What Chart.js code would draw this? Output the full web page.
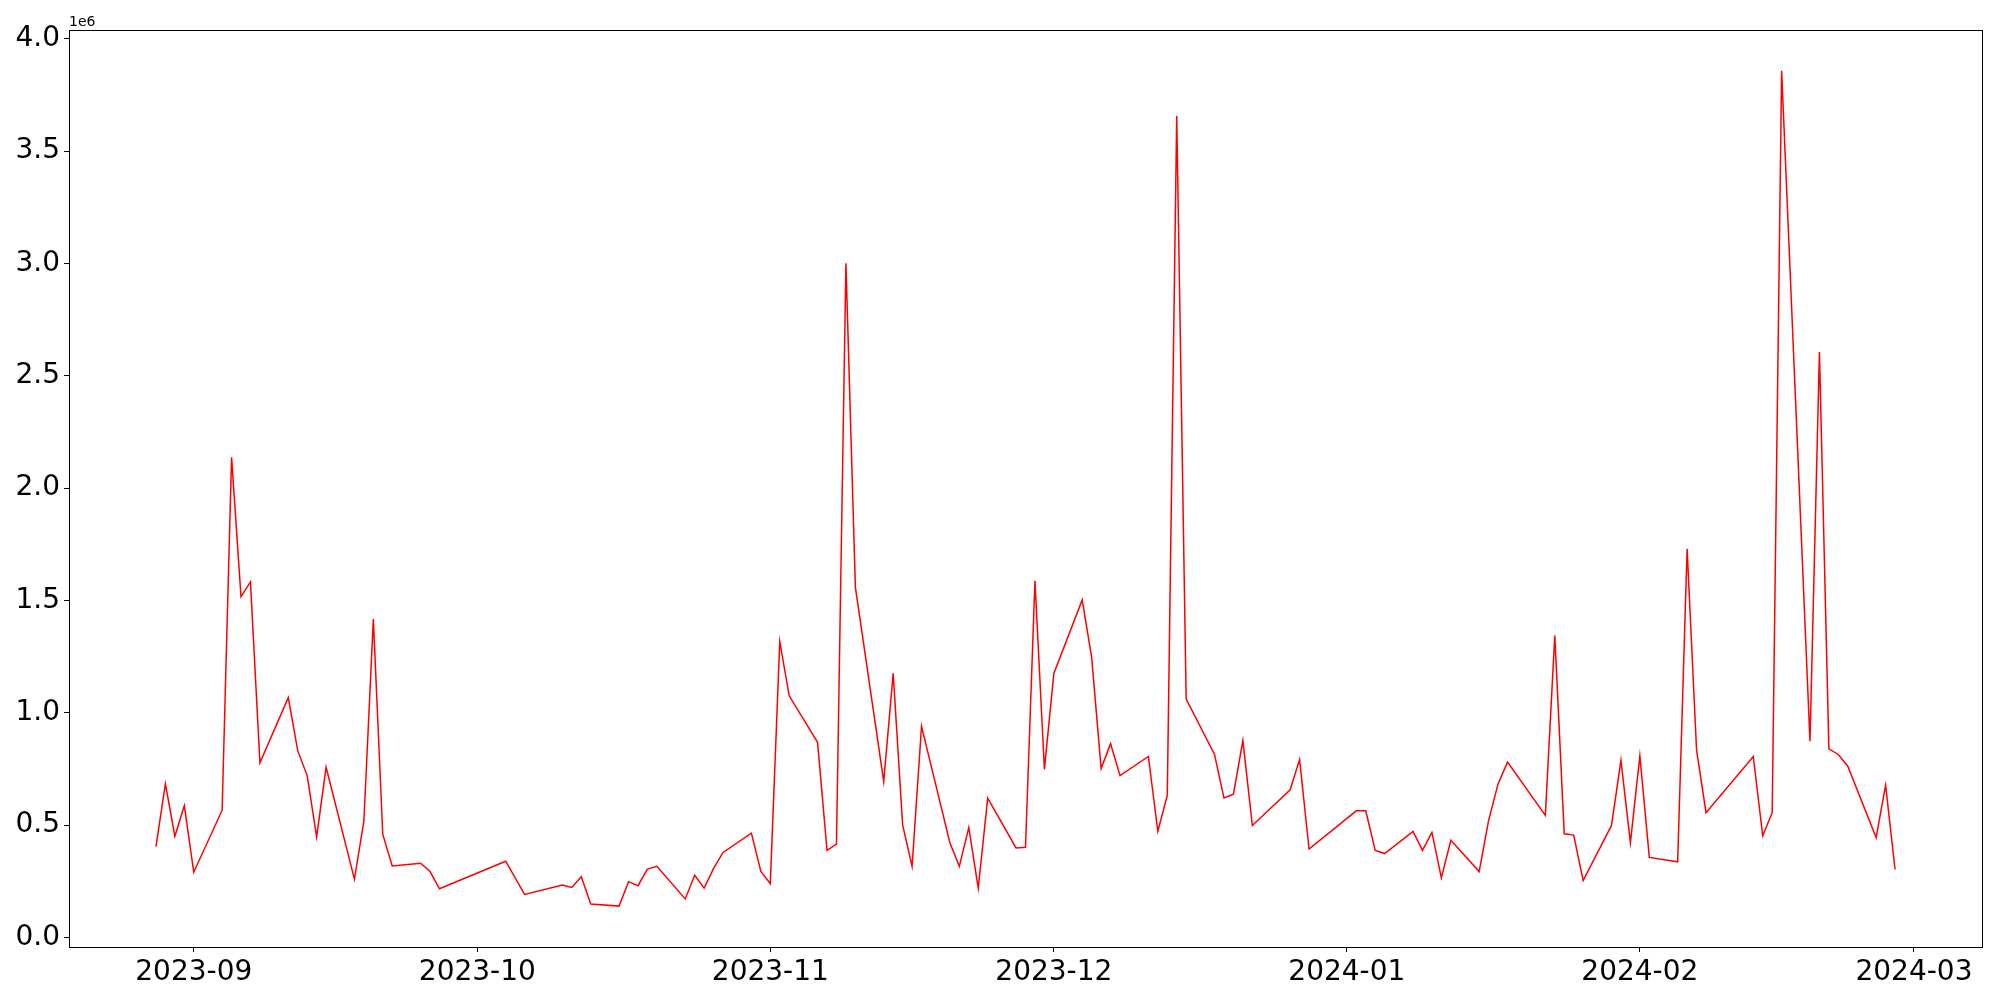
<!DOCTYPE html>
<html>
<head>
<meta charset="utf-8">
<script src="https://cdn.jsdelivr.net/npm/chart.js@4"></script>
<style>
  body { margin: 0; background: #fff; }
  #chart { display: block; }
</style>
</head>
<body>
<canvas id="chart" width="2000" height="1000"></canvas>
<script>
// --- Data (trading days) ---
let dates = [
    '2023-08-28', '2023-08-29', '2023-08-30', '2023-08-31', '2023-09-01',
    '2023-09-04', '2023-09-05', '2023-09-06', '2023-09-07', '2023-09-08',
    '2023-09-11', '2023-09-12', '2023-09-13', '2023-09-14', '2023-09-15',
    '2023-09-18', '2023-09-19', '2023-09-20', '2023-09-21', '2023-09-22',
    '2023-09-25', '2023-09-26', '2023-09-27', '2023-10-04', '2023-10-06',
    '2023-10-10', '2023-10-11', '2023-10-12', '2023-10-13',
    '2023-10-16', '2023-10-17', '2023-10-18', '2023-10-19', '2023-10-20',
    '2023-10-23', '2023-10-24', '2023-10-25', '2023-10-26', '2023-10-27',
    '2023-10-30', '2023-10-31', '2023-11-01', '2023-11-02', '2023-11-03',
    '2023-11-06', '2023-11-07', '2023-11-08', '2023-11-09', '2023-11-10',
    '2023-11-13', '2023-11-14', '2023-11-15', '2023-11-16', '2023-11-17',
    '2023-11-20', '2023-11-21', '2023-11-22', '2023-11-23', '2023-11-24',
    '2023-11-27', '2023-11-28', '2023-11-29', '2023-11-30', '2023-12-01',
    '2023-12-04', '2023-12-05', '2023-12-06', '2023-12-07', '2023-12-08',
    '2023-12-11', '2023-12-12', '2023-12-13', '2023-12-14', '2023-12-15',
    '2023-12-18', '2023-12-19', '2023-12-20', '2023-12-21', '2023-12-22',
    '2023-12-26', '2023-12-27', '2023-12-28', '2024-01-02', '2024-01-03',
    '2024-01-04', '2024-01-05', '2024-01-08', '2024-01-09', '2024-01-10',
    '2024-01-11', '2024-01-12', '2024-01-15', '2024-01-16', '2024-01-17',
    '2024-01-18', '2024-01-22', '2024-01-23', '2024-01-24', '2024-01-25',
    '2024-01-26', '2024-01-29', '2024-01-30', '2024-01-31', '2024-02-01',
    '2024-02-02', '2024-02-05', '2024-02-06', '2024-02-07', '2024-02-08',
    '2024-02-13', '2024-02-14', '2024-02-15', '2024-02-16', '2024-02-19',
    '2024-02-20', '2024-02-21', '2024-02-22', '2024-02-23', '2024-02-26',
    '2024-02-27', '2024-02-28'
];

let volumes = [
    404000, 683000, 450000, 586000, 290000,
    566000, 2137000, 1516000, 1582000, 777000,
    1067000, 831000, 720000, 447000, 757000,
    259000, 518000, 1417000, 458000, 318000,
    330000, 293000, 216000, 339000, 191000,
    233000, 222000, 270000, 148000,
    139000, 248000, 230000, 304000, 316000,
    171000, 276000, 219000, 307000, 378000,
    464000, 293000, 239000, 1317000, 1075000,
    868000, 387000, 415000, 3001000, 1559000,
    694000, 1175000, 501000, 316000, 939000,
    421000, 316000, 489000, 219000, 620000,
    398000, 401000, 1587000, 748000, 1175000,
    1502000, 1246000, 751000, 862000, 720000,
    805000, 472000, 632000, 3656000, 1061000,
    814000, 620000, 637000, 876000, 498000,
    657000, 791000, 393000, 563000, 563000,
    387000, 373000, 472000, 387000, 467000,
    265000, 432000, 293000, 521000, 683000,
    780000, 543000, 1343000, 461000, 455000,
    253000, 498000, 788000, 421000, 808000,
    356000, 336000, 1730000, 834000, 555000,
    805000, 452000, 555000, 3858000, 873000,
    2606000, 839000, 814000, 762000, 444000,
    677000, 302000
];

// Tick labels
let monthTicks = ['2023-09', '2023-10', '2023-11', '2023-12', '2024-01', '2024-02', '2024-03'];
let yTicks = [0, 500000, 1000000, 1500000, 2000000, 2500000, 3000000, 3500000, 4000000];

function toTime(s) {
    let p = s.split('-').map(Number);
    return Date.UTC(p[0], p[1] - 1, p[2] || 1);
}

function fmtMonth(v) {
    let d = new Date(v);
    let m = d.getUTCMonth() + 1;
    return d.getUTCFullYear() + '-' + (m < 10 ? '0' + m : m);
}

let points = dates.map((d, i) => ({ x: toTime(d), y: volumes[i] }));
let firstX = points[0].x;
let lastX = points[points.length - 1].x;
let pad = (lastX - firstX) * 0.05;

let tickFont = { family: 'DejaVu Sans', size: 28 };

// Frame round the plot area and the offset text
let framePlugin = {
    id: 'frame',
    afterDraw(chart) {
        let ctx = chart.ctx;
        let a = chart.chartArea;
        ctx.save();
        ctx.strokeStyle = '#000';
        ctx.lineWidth = 1;
        ctx.strokeRect(Math.round(a.left) + 0.5, Math.round(a.top) + 0.5,
            Math.round(a.right - a.left), Math.round(a.bottom - a.top));
        ctx.fillStyle = '#000';
        ctx.font = '14px "DejaVu Sans"';
        ctx.textAlign = 'left';
        ctx.textBaseline = 'alphabetic';
        ctx.fillText('1e6', a.left, a.top - 4);
        ctx.restore();
    }
};

let ctx = document.getElementById('chart').getContext('2d');

let volumeChart = new Chart(ctx, {
    type: 'line',
    data: {
        datasets: [{
            data: points,
            borderColor: '#ff0000',
            backgroundColor: '#ff0000',
            borderWidth: 1.5,
            pointRadius: 0,
            tension: 0,
            fill: false
        }]
    },
    options: {
        responsive: false,
        animation: false,
        devicePixelRatio: 1,
        layout: { padding: { top: 30, right: 18, left: 0, bottom: 0 } },
        plugins: {
            legend: { display: false },
            tooltip: { enabled: false }
        },
        scales: {
            x: {
                type: 'linear',
                min: firstX - pad,
                max: lastX + pad,
                afterBuildTicks(scale) {
                    scale.ticks = monthTicks.map(m => ({ value: toTime(m) }));
                },
                afterFit(scale) { scale.height = 53; },
                grid: {
                    display: true,
                    drawOnChartArea: false,
                    drawTicks: true,
                    tickLength: 5,
                    color: '#000',
                    lineWidth: 1
                },
                border: { display: false },
                ticks: {
                    font: tickFont,
                    color: '#000',
                    padding: 4,
                    maxRotation: 0,
                    autoSkip: false,
                    callback: v => fmtMonth(v)
                }
            },
            y: {
                min: -43000,
                max: 4039000,
                afterBuildTicks(scale) {
                    scale.ticks = yTicks.map(v => ({ value: v }));
                },
                afterFit(scale) { scale.width = 69; },
                grid: {
                    display: true,
                    drawOnChartArea: false,
                    drawTicks: true,
                    tickLength: 5,
                    color: '#000',
                    lineWidth: 1
                },
                border: { display: false },
                ticks: {
                    font: tickFont,
                    color: '#000',
                    padding: 4,
                    autoSkip: false,
                    callback: v => (v / 1e6).toFixed(1)
                }
            }
        }
    },
    plugins: [framePlugin]
});
</script>
</body>
</html>
